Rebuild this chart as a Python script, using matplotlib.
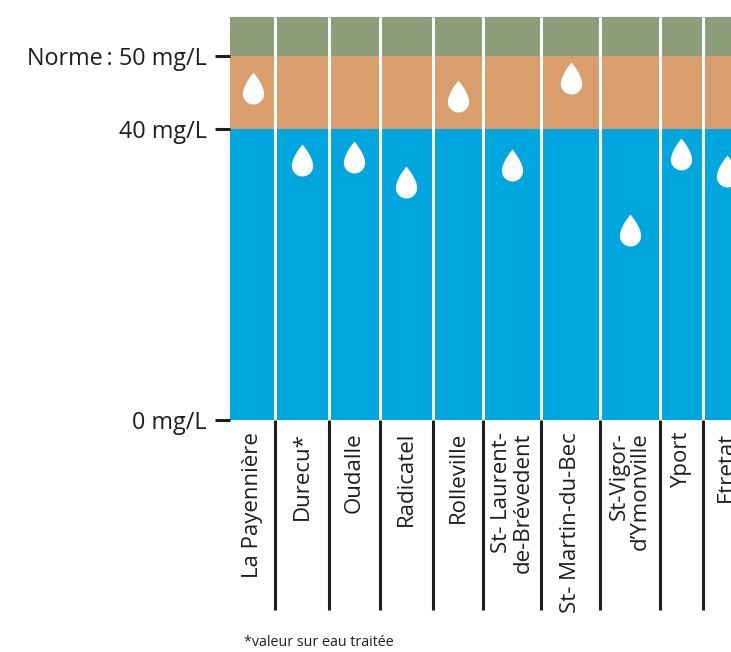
import numpy as np
import matplotlib
matplotlib.use('Agg')
import matplotlib.pyplot as plt
from matplotlib.path import Path
import matplotlib.transforms as mtransforms

plt.rcParams['font.family'] = ['Open Sans', 'DejaVu Sans']

# ===== Data =====
stations = ['La Payennière', 'Durecu*', 'Oudalle', 'Radicatel', 'Rolleville',
            'St- Laurent-\nde-Brévedent', 'St- Martin-du-Bec',
            'St-Vigor-\nd\u2019Ymonville', 'Yport', 'Etretat']
nitrates = [45.7, 35.8, 36.2, 32.7, 44.6, 35.0, 47.0, 26.1, 36.5, 34.2]  # mg/L

tick_vals = [0, 40, 50]
tick_labels = ['0 mg/L', '40 mg/L', 'Norme\u2009: 50 mg/L']

band_lo = [0, 40, 50]
band_hi = [40, 50, 55.4]
band_col = ['#00A6DE', '#DA9E6D', '#8E9D7A']

# ===== Layout =====
col_w = [45, 54, 50.5, 53.5, 50, 58, 59, 59.5, 43.5, 47]  # column widths (px)
ink = '#1e1e1e'
fs = 16


def drop_marker():
    # round bottom, convex sides meeting in a tip on top
    a = np.radians(10)
    t = np.linspace(a, -np.pi - a, 60)
    cx, cy = np.cos(t), np.sin(t)
    s = np.linspace(0, 1, 24)
    p0 = np.array([-np.cos(a), np.sin(a)])
    p1 = p0 + 0.8 * np.array([np.sin(a), np.cos(a)])
    p2 = np.array([0.0, 2.0])
    left = ((1 - s)**2)[:, None] * p0 + (2 * (1 - s) * s)[:, None] * p1 + (s**2)[:, None] * p2
    right = left[::-1].copy()
    right[:, 0] *= -1
    verts = np.vstack([np.column_stack([cx, cy]), left[1:], right[1:]])
    verts[:, 1] -= 0.5
    verts = np.vstack([verts, verts[:1]])
    codes = [Path.MOVETO] + [Path.LINETO] * (len(verts) - 2) + [Path.CLOSEPOLY]
    return Path(verts, codes)


fig = plt.figure(figsize=(7.31, 6.52), dpi=100)
ax = fig.add_axes([230 / 731, 232 / 652, 520 / 731, 403 / 652])

edges = np.concatenate([[0], np.cumsum(col_w)])
centers = edges[:-1] + np.array(col_w) / 2

for lo, hi, c in zip(band_lo, band_hi, band_col):
    ax.bar(edges[:-1], hi - lo, width=col_w, bottom=lo, align='edge', color=c, lw=0)

ax.vlines(edges[1:-1], 0, band_hi[-1], color='white', lw=2.2, zorder=3)

trans = mtransforms.blended_transform_factory(ax.transData, ax.transAxes)
ax.vlines(edges[1:-1], -190 / 403, 0, transform=trans, color=ink, lw=2.2, clip_on=False)

for x, name in zip(centers, stations):
    ax.text(x, -12 / 403, name, transform=trans, rotation=90, ha='center', va='top',
            multialignment='right', fontsize=fs, color=ink, linespacing=1.05,
            clip_on=False)

ax.plot(centers, nitrates, ls='none', marker=drop_marker(), ms=23,
        mfc='white', mec='none', zorder=4)

ax.set_xlim(0, edges[-1])
ax.set_ylim(0, band_hi[-1])
ax.set_xticks([])
ax.set_yticks(tick_vals, tick_labels)
ax.tick_params(axis='y', length=11, width=2.2, color=ink, pad=5.5,
               labelsize=16.8, labelcolor=ink)
for sp in ax.spines.values():
    sp.set_visible(False)

fig.text(244 / 731, 1 - 642 / 652, '*valeur sur eau traitée', fontsize=10.3,
         color=ink, ha='left', va='center')

fig.savefig('out.png', dpi=100)
